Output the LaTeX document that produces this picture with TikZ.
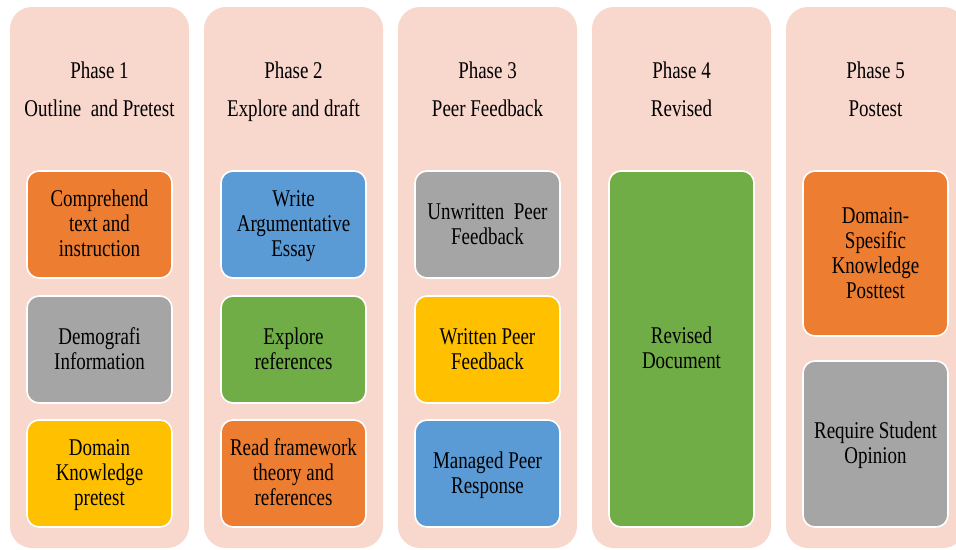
\documentclass[tikz,border=0pt]{standalone}
\usepackage{fontspec}
\setmainfont{Liberation Serif}[FakeStretch=0.79]
\usetikzlibrary{positioning}
\definecolor{colbg}{HTML}{F8D7CD}
\definecolor{orangebox}{HTML}{ED7D31}
\definecolor{graybox}{HTML}{A5A5A5}
\definecolor{yellowbox}{HTML}{FFC000}
\definecolor{bluebox}{HTML}{5B9BD5}
\definecolor{greenbox}{HTML}{70AD47}
% line strut that keeps the text block visually centred in its box
\newcommand\ls{\rule[-5.5pt]{0pt}{25pt}}
\tikzset{
  phasecol/.style={fill=colbg, draw=none, rounded corners=22pt,
    minimum width=179pt, minimum height=541pt, inner sep=0pt},
  phasetext/.style={font=\fontsize{24pt}{25pt}\selectfont, text=black,
    inner sep=0pt, anchor=base},
  taskbox/.style={draw=white, line width=1.6pt, rounded corners=12pt,
    minimum width=145pt, minimum height=107pt, inner sep=0pt, align=center,
    font=\fontsize{24pt}{25pt}\selectfont, text=black},
}
\begin{document}
\begin{tikzpicture}[x=1pt,y=-1pt]
\useasboundingbox (0,0) rectangle (956,549);
\begin{scope}
\clip (0,0) rectangle (956,549);
% phase columns
\node[phasecol] (c1) at (99.5,277.5) {};
\node[phasecol] (c2) at (293.5,277.5) {};
\node[phasecol] (c3) at (487.5,277.5) {};
\node[phasecol] (c4) at (681.5,277.5) {};
\node[phasecol] (c5) at (875.5,277.5) {};
\end{scope}
% headers
\node[phasetext] (h1a) at (99.5,78) {Phase 1};
\node[phasetext] (h1b) at (99.5,116) {Outline~ and Pretest};
\node[phasetext] (h2a) at (293.5,78) {Phase 2};
\node[phasetext] (h2b) at (293.5,116) {Explore and draft};
\node[phasetext] (h3a) at (487.5,78) {Phase 3};
\node[phasetext] (h3b) at (487.5,116) {Peer Feedback};
\node[phasetext] (h4a) at (681.5,78) {Phase 4};
\node[phasetext] (h4b) at (681.5,116) {Revised};
\node[phasetext] (h5a) at (875.5,78) {Phase 5};
\node[phasetext] (h5b) at (875.5,116) {Postest};
% phase 1 tasks
\node[taskbox, fill=orangebox] (p1a) at (99.5,224.5) {\ls Comprehend\\text and\\instruction\ls};
\node[taskbox, fill=graybox] (p1b) at (99.5,349.5) {\ls Demografi\\Information\ls};
\node[taskbox, fill=yellowbox] (p1c) at (99.5,473.5) {\ls Domain\\Knowledge\\pretest\ls};
% phase 2 tasks
\node[taskbox, fill=bluebox] (p2a) at (293.5,224.5) {\ls Write\\Argumentative\\Essay\ls};
\node[taskbox, fill=greenbox] (p2b) at (293.5,349.5) {\ls Explore\\references\ls};
\node[taskbox, fill=orangebox] (p2c) at (293.5,473.5) {\ls Read framework\\theory and\\references\ls};
% phase 3 tasks
\node[taskbox, fill=graybox] (p3a) at (487.5,224.5) {\ls Unwritten~ Peer\\Feedback\ls};
\node[taskbox, fill=yellowbox] (p3b) at (487.5,349.5) {\ls Written Peer\\Feedback\ls};
\node[taskbox, fill=bluebox] (p3c) at (487.5,473.5) {\ls Managed Peer\\Response\ls};
% phase 4 task
\node[taskbox, fill=greenbox, minimum height=356pt] (p4a) at (681.5,349) {\ls Revised\\Document\ls};
% phase 5 tasks
\node[taskbox, fill=orangebox, minimum height=165pt] (p5a) at (875.5,253.5) {\ls Domain-\\Spesific\\Knowledge\\Posttest\ls};
\node[taskbox, fill=graybox, minimum height=166pt] (p5b) at (875.5,444) {\ls Require Student\\Opinion\ls};
\end{tikzpicture}
\end{document}
